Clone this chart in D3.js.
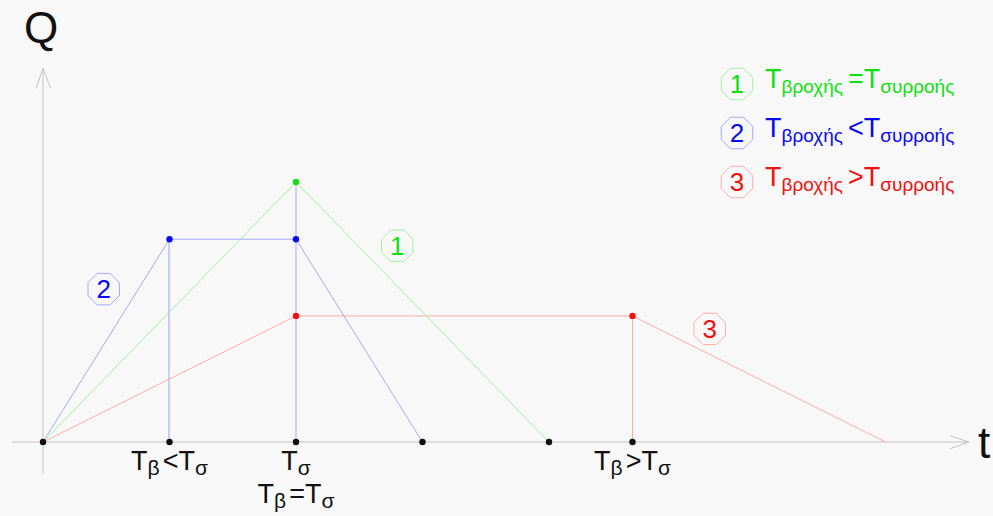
<!DOCTYPE html>
<html>
<head>
<meta charset="utf-8">
<script src="https://cdn.jsdelivr.net/npm/d3@7"></script>
<style>
  body { margin: 0; background: #f8f8f8; }
  svg { display: block; }
  svg text { font-family: "Liberation Sans", Arial, sans-serif; }
</style>
</head>
<body>
<svg id="chart" width="993" height="516"></svg>
<script>
// time in units of Tσ, discharge relative to the Tβ = Tσ peak
const greenT = [0, 1, 2]
const greenQ = [0, 1, 0]
const blueT = [0, 0.5, 1, 1.5]
const blueQ = [0, 0.78, 0.78, 0]
const redT = [0, 1, 2.33, 3.33]
const redQ = [0, 0.485, 0.485, 0]
const axisPoints = [0, 0.5, 1, 1.5, 2, 2.33]
const seriesLabels = ["1", "2", "3"]
const legendOps = ["=", "<", ">"]

const colors = { green: "#10e010", blue: "#0a0af0", red: "#f01010" }
const lineColors = { green: "#a0f0a0", blue: "#a8a8ff", red: "#ffaaaa" }

const svg = d3.select("#chart")

const x = d3.scaleLinear().domain([0, 1]).range([43, 296])
const y = d3.scaleLinear().domain([0, 1]).range([442, 182])

// axes
const axisColor = "#c4c4c4"
svg.append("line")
    .attr("x1", x(-0.123)).attr("x2", x(3.66))
    .attr("y1", y(0)).attr("y2", y(0))
    .attr("stroke", axisColor).attr("stroke-width", 1)
svg.append("polyline")
    .attr("points", [[x(3.585), y(0.024)], [x(3.66), y(0)], [x(3.585), y(-0.026)]].join(" "))
    .attr("fill", "none").attr("stroke", axisColor)
svg.append("line")
    .attr("x1", x(0)).attr("x2", x(0))
    .attr("y1", y(-0.12)).attr("y2", y(1.438))
    .attr("stroke", axisColor).attr("stroke-width", 1)
svg.append("polyline")
    .attr("points", [[x(-0.027), y(1.36)], [x(0), y(1.438)], [x(0.03), y(1.36)]].join(" "))
    .attr("fill", "none").attr("stroke", axisColor)

const line = d3.line().x(d => x(d[0])).y(d => y(d[1]))
const zip = (a, b) => a.map((v, i) => [v, b[i]])

// vertical guides
svg.append("path")
    .attr("d", line([[blueT[1], blueQ[1]], [blueT[1], 0]]))
    .attr("transform", "translate(-0.5,0)")
    .attr("stroke", "#9c9cff").attr("fill", "none")
svg.append("path")
    .attr("d", line([[greenT[1], greenQ[1]], [greenT[1], 0]]))
    .attr("stroke", lineColors.blue).attr("fill", "none")
svg.append("path")
    .attr("d", line([[redT[2], redQ[2]], [redT[2], 0]]))
    .attr("stroke", lineColors.red).attr("fill", "none")

const series = [
    { key: "red", data: zip(redT, redQ) },
    { key: "green", data: zip(greenT, greenQ) },
    { key: "blue", data: zip(blueT, blueQ) }
]

series.forEach(s => {
    svg.append("path")
        .attr("d", line(s.data))
        .attr("fill", "none")
        .attr("stroke", lineColors[s.key])
        .attr("stroke-width", 1)
})

// coloured vertices
series.forEach(s => {
    svg.selectAll(null)
        .data(s.data.filter(d => d[1] > 0))
        .enter().append("circle")
        .attr("cx", d => x(d[0])).attr("cy", d => y(d[1]))
        .attr("r", 3.2)
        .attr("fill", colors[s.key])
})

// axis points
svg.selectAll(null)
    .data(axisPoints)
    .enter().append("circle")
    .attr("cx", d => x(d)).attr("cy", y(0))
    .attr("r", 3.2).attr("fill", "#111")

// octagon badge
const badge = (cx, cy, r, label, color, lineColor, size) => {
    const n = 8
    const pts = d3.range(n).map(i => {
        const a = Math.PI / n + i * 2 * Math.PI / n
        return [cx + r * Math.cos(a), cy + r * Math.sin(a)]
    })
    svg.append("polygon")
        .attr("points", pts.join(" "))
        .attr("fill", "none").attr("stroke", lineColor).attr("stroke-width", 1)
    svg.append("text")
        .attr("x", cx).attr("y", cy + size * 0.36)
        .attr("text-anchor", "middle")
        .attr("font-size", size)
        .attr("fill", color)
        .text(label)
}

badge(x(1.4), y(0.755), 17, seriesLabels[0], colors.green, lineColors.green, 26)
badge(x(0.24), y(0.588), 17, seriesLabels[1], colors.blue, lineColors.blue, 26)
badge(x(2.635), y(0.435), 17, seriesLabels[2], colors.red, lineColors.red, 26)

// legend
const legendKeys = ["green", "blue", "red"]
legendKeys.forEach((k, i) => {
    const by = 88 + i * 49
    badge(737, by - 4, 17, seriesLabels[i], colors[k], lineColors[k], 26)
    const t = svg.append("text")
        .attr("x", 765).attr("y", by)
        .attr("font-size", 27).attr("fill", colors[k])
    t.append("tspan").text("T")
    t.append("tspan").attr("font-size", 19).attr("dy", 5).text("βροχής")
    t.append("tspan").attr("dy", -5).attr("dx", 5).text(legendOps[i] + "T")
    t.append("tspan").attr("font-size", 19).attr("dy", 5).text("συρροής")
})

// tick labels under the axis
const tickLabel = (cx, by, parts) => {
    const t = svg.append("text")
        .attr("x", cx).attr("y", by)
        .attr("text-anchor", "middle")
        .attr("font-size", 27).attr("fill", "#111")
    parts.forEach(p => {
        const s = t.append("tspan").text(p.text)
        if (p.sub) s.attr("font-size", 21).attr("dy", 5)
        if (p.up) s.attr("dy", -5).attr("dx", 3)
    })
}
tickLabel(x(0.5), 470, [{ text: "T" }, { text: "β", sub: true }, { text: "<T", up: true }, { text: "σ", sub: true }])
tickLabel(x(1), 470, [{ text: "T" }, { text: "σ", sub: true }])
tickLabel(x(1), 503, [{ text: "T" }, { text: "β", sub: true }, { text: "=T", up: true }, { text: "σ", sub: true }])
tickLabel(x(2.33), 470, [{ text: "T" }, { text: "β", sub: true }, { text: ">T", up: true }, { text: "σ", sub: true }])

// axis titles
svg.append("text").attr("x", 24).attr("y", 43)
    .attr("font-size", 44).attr("fill", "#111").text("Q")
svg.append("text").attr("x", 978).attr("y", 458)
    .attr("font-size", 44).attr("fill", "#111").text("t")
</script>
</body>
</html>
